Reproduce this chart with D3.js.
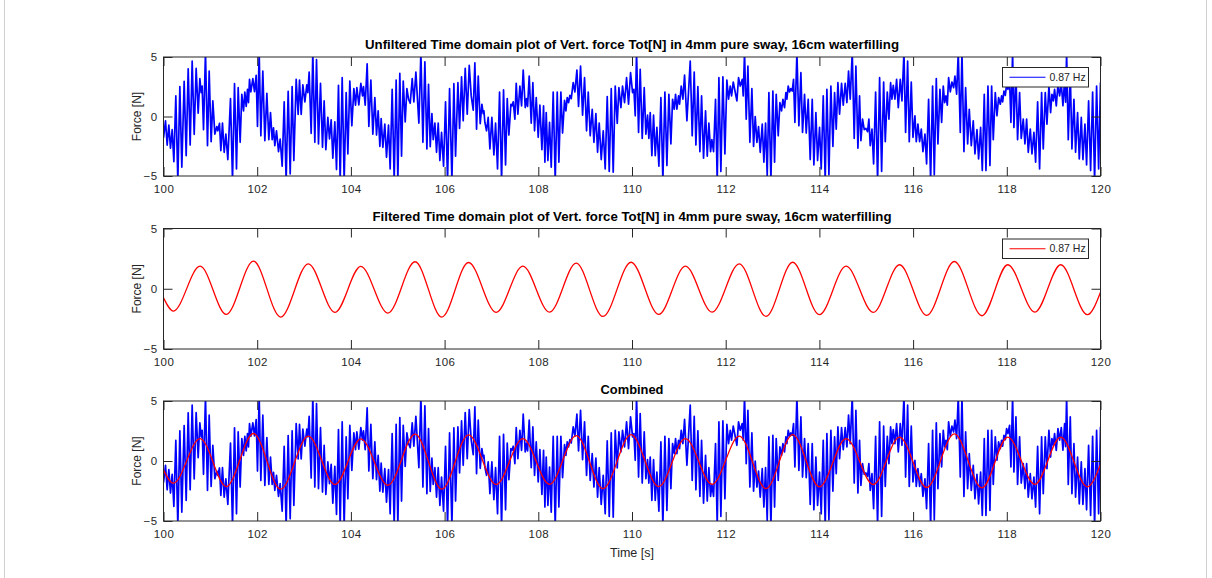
<!DOCTYPE html>
<html><head><meta charset="utf-8">
<script src="https://cdn.jsdelivr.net/npm/d3@7"></script>
<style>body{margin:0;background:#fff;} text{font-family:Arial,"Liberation Sans",sans-serif;}</style>
</head><body>
<svg id="chart" width="1212" height="578"></svg>
<script>
// ---------- data ----------
const xTicks = [100,102,104,106,108,110,112,114,116,118,120];
const yTicks = [-5,0,5];
const legendLabel = "0.87 Hz";
const titles = [
  "Unfiltered Time domain plot of Vert. force Tot[N] in 4mm pure sway, 16cm waterfilling",
  "Filtered Time domain plot of Vert. force Tot[N] in 4mm pure sway, 16cm waterfilling",
  "Combined"
];
const xLabel = "Time [s]";
const yLabel = "Force [N]";

// unfiltered vertical force: [time s, force N]
const unfilteredSamples = [
[100.000,-1.8],[100.043,-0.36],[100.078,-2.4],[100.114,-0.72],[100.149,-2.67],[100.185,-1.11],[100.221,-3.79],[100.263,1.73],[100.306,-5.4],[100.349,2.51],
[100.391,-4.26],[100.441,2.95],[100.484,-3.29],[100.527,4.01],[100.569,-2.4],[100.612,4.65],[100.655,-1.5],[100.697,4.04],[100.740,0.28],[100.776,3.18],
[100.804,2.01],[100.825,2.56],[100.854,-1.11],[100.896,5.4],[100.939,-2.45],[100.975,3.82],[101.017,-2.12],[101.053,1.31],[101.096,-1.48],[101.138,-0.84],
[101.160,-1.2],[101.195,-0.58],[101.224,-2.87],[101.259,-0.56],[101.295,-3.01],[101.331,-1.48],[101.373,-3.62],[101.430,1.5],[101.473,-5.4],[101.516,2.76],
[101.558,-4.4],[101.594,2.42],[101.636,-2.17],[101.672,1.87],[101.708,0.47],[101.736,2.06],[101.765,0.84],[101.793,2.28],[101.814,1.17],[101.836,3.12],
[101.864,2.06],[101.907,3.18],[101.942,2.09],[101.978,3.45],[102.006,-0.84],[102.042,5.4],[102.078,-1.62],[102.120,3.82],[102.163,-2.03],[102.206,1.95],
[102.248,-1.95],[102.284,0.33],[102.320,-1.95],[102.348,-0.95],[102.376,-2.45],[102.412,-1.2],[102.455,-2.95],[102.490,-1.89],[102.533,-4.18],[102.576,1.23],
[102.618,-5.4],[102.661,2.12],[102.704,-4.82],[102.746,2.51],[102.782,-3.7],[102.832,3.12],[102.874,0.17],[102.903,3.06],[102.939,0.17],[102.974,2.65],
[103.017,1.23],[103.059,2.65],[103.081,2.01],[103.109,3.73],[103.152,-1.42],[103.187,5.4],[103.230,-2.17],[103.266,4.79],[103.308,-2.31],[103.351,2.79],
[103.394,-2.59],[103.429,1.31],[103.465,-2.79],[103.508,-0.08],[103.543,-1.89],[103.579,-0.28],[103.614,-3.51],[103.657,-0.45],[103.693,-4.46],[103.735,2.62],
[103.771,-5.4],[103.814,3.26],[103.856,-5.4],[103.899,2.01],[103.935,-3.15],[103.977,2.98],[104.020,-0.78],[104.063,2.34],[104.098,0.95],[104.127,2.42],
[104.169,0.98],[104.212,2.79],[104.248,1.73],[104.269,2.51],[104.305,0.95],[104.347,4.43],[104.383,-0.84],[104.426,3.06],[104.468,-1.48],[104.511,1.59],
[104.547,-1.56],[104.582,0.47],[104.618,-2.51],[104.646,-0.17],[104.682,-2.59],[104.724,-0.64],[104.760,-3.43],[104.803,-0.72],[104.838,-4.4],[104.881,2.28],
[104.924,-5.4],[104.966,3.06],[105.002,-5.4],[105.044,3.62],[105.081,-3.34],[105.117,2.98],[105.159,-0.45],[105.195,2.34],[105.231,1.45],[105.266,1.11],
[105.309,3.18],[105.344,1.23],[105.387,3.73],[105.451,-0.56],[105.494,5.4],[105.537,-2.17],[105.579,4.6],[105.622,-2.73],[105.657,2.7],[105.693,-2.53],
[105.729,0.25],[105.757,-1.95],[105.793,-0.56],[105.828,-3.01],[105.864,-0.56],[105.899,-3.7],[105.935,-1.34],[105.978,-4.18],[106.020,1.23],[106.063,-5.4],
[106.106,2.34],[106.156,-5.4],[106.198,2.76],[106.234,-3.34],[106.284,2.84],[106.319,-1.0],[106.362,3.34],[106.397,-0.36],[106.440,4.04],[106.483,0.19],
[106.526,4.29],[106.568,1.73],[106.611,0.53],[106.646,4.51],[106.682,-1.06],[106.718,3.4],[106.760,-0.61],[106.796,1.03],[106.824,0.25],[106.839,0.47],
[106.860,-0.5],[106.895,-1.2],[106.931,-0.08],[106.967,-2.73],[107.009,-0.08],[107.052,-3.23],[107.088,-0.56],[107.130,-4.4],[107.173,2.06],[107.216,-5.4],
[107.258,2.23],[107.301,-4.07],[107.337,1.5],[107.372,-1.56],[107.415,1.03],[107.436,0.89],[107.465,1.23],[107.500,-0.22],[107.529,2.79],[107.564,0.19],
[107.607,2.56],[107.643,0.89],[107.678,3.9],[107.721,0.75],[107.749,1.5],[107.771,0.84],[107.806,3.4],[107.849,-0.56],[107.884,2.84],[107.920,-1.2],
[107.956,1.59],[107.998,-1.75],[108.034,0.95],[108.077,-2.79],[108.112,0.89],[108.141,-3.84],[108.169,0.33],[108.205,-3.7],[108.240,-0.5],[108.276,-4.26],
[108.318,2.06],[108.361,-5.4],[108.404,2.06],[108.439,-3.84],[108.482,2.06],[108.518,-1.39],[108.560,1.36],[108.589,0.47],[108.617,1.59],[108.646,1.17],
[108.674,1.78],[108.703,1.5],[108.745,2.84],[108.781,2.06],[108.824,3.9],[108.859,0.84],[108.902,4.23],[108.945,0.11],[108.987,3.26],[109.030,-1.2],
[109.066,2.06],[109.108,-1.62],[109.151,0.61],[109.187,-2.17],[109.229,0.25],[109.265,-3.01],[109.300,-0.56],[109.343,-3.62],[109.386,-1.2],[109.428,-4.4],
[109.471,1.67],[109.514,-4.62],[109.557,2.34],[109.599,-4.68],[109.642,2.56],[109.685,-0.58],[109.720,2.42],[109.763,0.75],[109.798,2.56],[109.841,1.17],
[109.884,3.26],[109.926,1.03],[109.969,3.68],[110.012,2.01],[110.040,2.28],[110.069,0.06],[110.097,5.4],[110.140,-1.34],[110.175,3.96],[110.218,-1.84],
[110.261,2.42],[110.296,-1.48],[110.332,0.11],[110.360,-1.84],[110.389,0.33],[110.424,-3.29],[110.460,0.11],[110.496,-3.29],[110.531,-0.92],[110.574,-4.18],
[110.617,1.59],[110.659,-5.4],[110.702,2.06],[110.745,-4.12],[110.787,1.87],[110.830,-2.31],[110.866,1.45],[110.901,0.61],[110.930,1.87],[110.958,0.61],
[110.994,1.73],[111.015,1.03],[111.051,2.56],[111.086,1.45],[111.122,3.48],[111.172,-0.36],[111.243,4.65],[111.285,-1.62],[111.328,3.73],[111.364,-2.4],
[111.406,2.51],[111.449,-2.95],[111.485,1.73],[111.527,-3.51],[111.570,0.47],[111.606,-3.34],[111.641,-0.56],[111.677,-2.95],[111.705,-1.95],[111.741,-2.95],
[111.783,1.45],[111.819,-5.4],[111.855,3.26],[111.897,-4.62],[111.940,3.34],[111.983,-3.15],[112.025,3.06],[112.061,1.45],[112.097,2.56],[112.125,1.73],
[112.161,2.9],[112.239,1.31],[112.274,3.26],[112.310,2.56],[112.353,3.12],[112.374,1.73],[112.402,5.4],[112.438,-0.22],[112.474,4.23],[112.516,-2.17],
[112.559,2.34],[112.595,-2.51],[112.630,0.0],[112.666,-2.17],[112.701,-0.84],[112.737,-3.01],[112.780,-0.64],[112.815,-3.84],[112.851,-0.56],[112.886,-4.96],
[112.922,2.01],[112.965,-5.4],[113.007,2.14],[113.043,-3.84],[113.078,1.87],[113.121,-1.62],[113.157,1.17],[113.192,0.47],[113.221,1.45],[113.256,0.75],
[113.285,2.01],[113.306,1.45],[113.334,2.56],[113.363,2.06],[113.391,2.34],[113.420,2.14],[113.448,3.12],[113.477,-0.5],[113.520,5.4],[113.562,-0.78],
[113.605,3.68],[113.640,-1.34],[113.683,1.87],[113.719,-1.39],[113.761,1.45],[113.804,-3.62],[113.847,1.45],[113.882,-4.07],[113.925,0.33],[113.961,-3.7],
[114.003,-0.92],[114.039,-4.4],[114.082,1.73],[114.124,-5.4],[114.160,2.28],[114.203,-4.9],[114.245,2.56],[114.288,-2.51],[114.324,2.01],[114.359,-1.06],
[114.395,2.84],[114.430,0.19],[114.473,2.79],[114.509,0.95],[114.551,2.79],[114.587,1.17],[114.622,3.82],[114.658,1.45],[114.701,5.4],[114.743,-1.84],
[114.779,4.23],[114.822,-2.67],[114.857,1.73],[114.886,-2.03],[114.921,-0.22],[114.957,-1.11],[114.992,-1.0],[115.028,-1.28],[115.056,-0.22],[115.085,-2.45],
[115.122,-1.06],[115.157,-3.98],[115.200,2.06],[115.242,-5.4],[115.285,3.26],[115.328,-4.62],[115.371,2.9],[115.406,-2.12],[115.449,2.06],[115.484,-0.22],
[115.520,2.84],[115.548,1.45],[115.577,2.62],[115.612,1.45],[115.648,3.12],[115.684,0.75],[115.726,3.12],[115.762,1.31],[115.805,5.4],[115.840,-1.34],
[115.883,4.65],[115.918,-2.12],[115.961,2.9],[115.997,-1.75],[116.039,0.06],[116.068,-2.12],[116.103,-0.64],[116.139,-2.12],[116.175,-1.06],[116.210,-2.95],
[116.253,-1.48],[116.288,-3.98],[116.331,1.45],[116.374,-5.4],[116.416,2.56],[116.452,-4.9],[116.495,3.18],[116.530,-2.31],[116.573,2.28],[116.609,-0.5],
[116.644,2.56],[116.673,1.17],[116.701,1.73],[116.730,0.95],[116.758,3.26],[116.794,2.06],[116.829,2.9],[116.865,2.42],[116.893,3.4],[116.929,1.87],
[116.964,5.4],[117.007,-1.34],[117.043,5.4],[117.085,-2.95],[117.121,2.42],[117.164,-2.31],[117.199,0.61],[117.242,-2.45],[117.284,-0.36],[117.320,-3.15],
[117.363,-1.11],[117.398,-3.57],[117.441,-0.92],[117.477,-4.54],[117.519,1.87],[117.555,-4.54],[117.598,2.56],[117.640,-4.12],[117.676,2.56],[117.711,-1.95],
[117.754,2.01],[117.790,0.06],[117.825,1.59],[117.861,1.03],[117.889,1.73],[117.911,1.23],[117.939,2.14],[117.968,1.78],[117.996,2.7],[118.024,2.28],
[118.060,2.98],[118.088,-0.5],[118.124,5.4],[118.152,-0.92],[118.195,3.68],[118.230,-1.95],[118.273,2.01],[118.308,-1.84],[118.351,-0.22],[118.387,-2.31],
[118.423,-0.22],[118.458,-3.01],[118.501,-1.06],[118.537,-3.15],[118.579,-1.34],[118.615,-3.84],[118.658,1.23],[118.700,-4.4],[118.743,2.01],[118.778,-2.73],
[118.821,2.01],[118.857,-0.64],[118.899,2.56],[118.935,0.33],[118.963,1.87],[118.992,1.31],[119.020,2.28],[119.056,0.89],[119.092,2.7],[119.127,1.73],
[119.163,2.79],[119.198,0.9],[119.234,3.12],[119.255,1.2],[119.277,5.4],[119.312,-1.95],[119.355,3.68],[119.390,-2.73],[119.433,1.45],[119.468,-3.01],
[119.511,0.33],[119.547,-3.57],[119.590,-0.08],[119.625,-3.62],[119.668,-0.64],[119.703,-4.07],[119.746,1.31],[119.789,-4.54],[119.832,2.06],[119.874,-5.4],
[119.917,2.56],[119.960,-4.4],[120.000,2.86]
];

// filtered (0.87 Hz) signal: extrema and end points [time s, force N]
const filteredSamples = [
[100.00,-0.75],[100.21,-1.85],[100.78,1.87],[101.34,-2.13],[101.92,2.29],[102.50,-2.35],[103.09,2.07],[103.66,-1.96],
[104.21,1.85],[104.79,-2.02],[105.37,2.24],[105.94,-2.35],[106.51,2.18],[107.10,-1.96],[107.67,1.87],[108.24,-1.94],
[108.81,2.12],[109.38,-2.30],[109.98,2.20],[110.57,-2.13],[111.14,1.87],[111.71,-1.94],[112.29,2.07],[112.86,-2.30],
[113.43,2.20],[114.00,-2.15],[114.57,1.87],[115.15,-1.96],[115.71,1.99],[116.29,-2.21],[116.88,2.26],[117.47,-2.24],
[118.02,1.99],[118.60,-1.94],[119.15,1.99],[119.72,-2.15],[120.00,-0.28]
];

// ---------- drawing ----------
const svg = d3.select("#chart");
svg.append("rect").attr("width",1212).attr("height",578).attr("fill","#fff");
svg.append("line").attr("x1",4.5).attr("x2",4.5).attr("y1",0).attr("y2",578).attr("stroke","#cfcfcf");
svg.append("line").attr("x1",1206.5).attr("x2",1206.5).attr("y1",0).attr("y2",578).attr("stroke","#cfcfcf");

const X0 = 163.5, X1 = 1100.5;
const x = d3.scaleLinear().domain([100,120]).range([X0,X1]);
const panels = [
  {top:57, bottom:176, title:titles[0], titleLen:534, titleY:49, series:[{data:unfilteredSamples,color:"#0000ff",w:1.7,curve:d3.curveLinear}], legend:"#0000ff"},
  {top:228.5, bottom:349, title:titles[1], titleLen:519, titleY:221, series:[{data:filteredSamples,color:"#ff0000",w:1.3,curve:d3.curveMonotoneX}], legend:"#ff0000"},
  {top:401, bottom:521, title:titles[2], titleLen:63, titleY:394, series:[{data:unfilteredSamples,color:"#0000ff",w:1.7,curve:d3.curveLinear},{data:filteredSamples,color:"#ff0000",w:1.3,curve:d3.curveMonotoneX}], legend:null, xlabel:true}
];
const axisColor = "#262626";

panels.forEach((p,i)=>{
  const y = d3.scaleLinear().domain([-5,5]).range([p.bottom,p.top]);
  const g = svg.append("g");
  const clipId = "clip"+i;
  svg.append("clipPath").attr("id",clipId).append("rect")
    .attr("x",X0).attr("y",p.top).attr("width",X1-X0).attr("height",p.bottom-p.top);

  p.series.forEach(s=>{
    const line = d3.line().x(d=>x(d[0])).y(d=>y(d[1])).curve(s.curve);
    g.append("path").attr("d",line(s.data)).attr("fill","none")
      .attr("stroke",s.color).attr("stroke-width",s.w).attr("stroke-linejoin","round")
      .attr("clip-path",`url(#${clipId})`);
  });

  const fmt = d3.format("d");
  const axB = g.append("g").attr("transform",`translate(0,${p.bottom})`)
    .call(d3.axisBottom(x).tickValues(xTicks).tickSizeInner(-9).tickSizeOuter(0).tickPadding(9).tickFormat(fmt));
  const axT = g.append("g").attr("transform",`translate(0,${p.top})`)
    .call(d3.axisTop(x).tickValues(xTicks).tickSizeInner(-9).tickSizeOuter(0).tickFormat(""));
  const axL = g.append("g").attr("transform",`translate(${X0},0)`)
    .call(d3.axisLeft(y).tickValues(yTicks).tickSizeInner(-9).tickSizeOuter(0).tickPadding(6).tickFormat(fmt));
  const axR = g.append("g").attr("transform",`translate(${X1},0)`)
    .call(d3.axisRight(y).tickValues(yTicks).tickSizeInner(-9).tickSizeOuter(0).tickFormat(""));
  [axB,axT,axL,axR].forEach(a=>{
    a.select(".domain").remove();
    a.selectAll(".tick line").attr("stroke",axisColor);
    a.selectAll("text").attr("fill",axisColor).style("font-size","11.5px").style("letter-spacing","0.4px")
      .style("font-family","Arial, 'Liberation Sans', sans-serif");
  });
  g.append("rect").attr("x",X0).attr("y",p.top).attr("width",X1-X0).attr("height",p.bottom-p.top)
    .attr("fill","none").attr("stroke",axisColor).attr("stroke-width",1);

  g.append("text").attr("x",(X0+X1)/2 - p.titleLen/2).attr("y",p.titleY)
    .attr("textLength",p.titleLen).attr("lengthAdjust","spacingAndGlyphs")
    .style("font-size","12.3px").style("font-weight","bold").attr("fill","#000").text(p.title);

  g.append("text").attr("transform",`translate(140.5,${(p.top+p.bottom)/2}) rotate(-90)`)
    .attr("text-anchor","middle").style("font-size","12px").attr("fill",axisColor).text(yLabel);

  if (p.xlabel) {
    g.append("text").attr("x",(X0+X1)/2).attr("y",557).attr("text-anchor","middle")
      .style("font-size","12.5px").attr("fill",axisColor).text(xLabel);
  }

  if (p.legend) {
    const lx = 1002.5, ly = p.top + 10.5, lw = 86, lh = 19.5;
    g.append("rect").attr("x",lx).attr("y",ly).attr("width",lw).attr("height",lh)
      .attr("fill","#fff").attr("stroke",axisColor).attr("stroke-width",1);
    g.append("line").attr("x1",lx+7).attr("x2",lx+43).attr("y1",ly+lh/2).attr("y2",ly+lh/2)
      .attr("stroke",p.legend).attr("stroke-width",1.2);
    g.append("text").attr("x",lx+47).attr("y",ly+lh/2).attr("dy","0.35em")
      .style("font-size","10.5px").attr("fill",axisColor).text(legendLabel);
  }
});
</script>
</body></html>
